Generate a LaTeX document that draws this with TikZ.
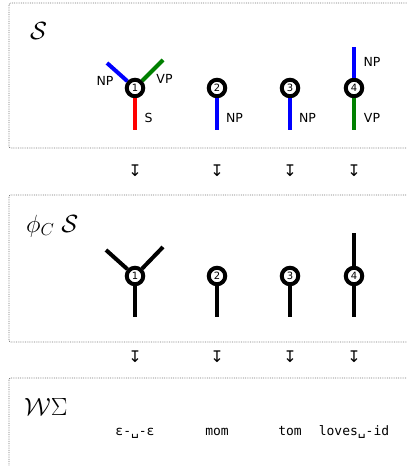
\documentclass[tikz,border=0pt]{standalone}
\usepackage[no-math]{fontspec}
\setmainfont{DejaVu Sans}
\newfontfamily\monof{DejaVu Sans Mono}
\newfontfamily\symf{DejaVu Sans}
\definecolor{dkgreen}{RGB}{0,128,0}
\begin{document}
\begin{tikzpicture}[x=1pt,y=-1pt,
 frame/.style={black!55, densely dotted, line width=0.8pt, rounded corners=2pt},
 vtx/.style={circle, draw=black, fill=white, line width=4pt, minimum size=16.5pt, inner sep=0pt, font=\fontsize{10}{10}\selectfont},
 leg/.style={line width=4pt},
 lbl/.style={font=\fontsize{12.5}{13}\selectfont, inner sep=0pt},
 ttl/.style={font=\fontsize{25}{27}\selectfont, inner sep=0pt, anchor=base west},
 darr/.style={font=\symf\fontsize{16}{16}\selectfont, inner sep=0pt},
 word/.style={font=\monof\fontsize{13}{14}\selectfont, inner sep=0pt, anchor=base}]
\useasboundingbox (0,0) rectangle (407,466);
% frames
\draw[frame] (9,3) rectangle (430,148);
\draw[frame] (9,195) rectangle (430,342);
\draw[frame] (9,378) rectangle (430,490);
% titles
\node[ttl] (t1) at (30,39) {$\mathcal{S}$};
\node[ttl] (t2) at (26,232) {$\phi_C\;\mathcal{S}$};
\node[ttl] (t3) at (24,415) {$\mathcal{W}\Sigma$};
% row 1
\node[vtx] (a1) at (135,88) {1};
\node[vtx] (a2) at (217,88) {2};
\node[vtx] (a3) at (290,88) {3};
\node[vtx] (a4) at (354,88) {4};
\coordinate (a1s) at (135,130);
\coordinate (a1np) at (107,63);
\coordinate (a1vp) at (163,60);
\coordinate (a2s) at (217,130);
\coordinate (a3s) at (290,130);
\coordinate (a4s) at (354,130);
\coordinate (a4n) at (354,47);
\draw[leg,red] (a1) -- (a1s);
\draw[leg,blue] (a1) -- (a1np);
\draw[leg,dkgreen] (a1) -- (a1vp);
\draw[leg,blue] (a2) -- (a2s);
\draw[leg,blue] (a3) -- (a3s);
\draw[leg,dkgreen] (a4) -- (a4s);
\draw[leg,blue] (a4) -- (a4n);
\node[lbl] (l1np) at (105,80.5) {NP};
\node[lbl] (l1vp) at (164.5,79) {VP};
\node[lbl] (l1s) at (148.5,118) {S};
\node[lbl] (l2np) at (234.5,118) {NP};
\node[lbl] (l3np) at (307.5,118) {NP};
\node[lbl] (l4np) at (372,62) {NP};
\node[lbl] (l4vp) at (372,118) {VP};
% arrows row 1
\node[darr] (d1) at (135,171) {↧};
\node[darr] (d2) at (217,171) {↧};
\node[darr] (d3) at (290,171) {↧};
\node[darr] (d4) at (354,171) {↧};
% row 2
\node[vtx] (b1) at (135,276) {1};
\node[vtx] (b2) at (217,276) {2};
\node[vtx] (b3) at (290,276) {3};
\node[vtx] (b4) at (354,276) {4};
\coordinate (b1s) at (135,317);
\coordinate (b1l) at (106,250);
\coordinate (b1r) at (163,247);
\coordinate (b2s) at (217,317);
\coordinate (b3s) at (290,317);
\coordinate (b4s) at (354,317);
\coordinate (b4n) at (354,233);
\draw[leg] (b1) -- (b1s);
\draw[leg] (b1) -- (b1l);
\draw[leg] (b1) -- (b1r);
\draw[leg] (b2) -- (b2s);
\draw[leg] (b3) -- (b3s);
\draw[leg] (b4) -- (b4s);
\draw[leg] (b4) -- (b4n);
% arrows row 2
\node[darr] (e1) at (135,357) {↧};
\node[darr] (e2) at (217,357) {↧};
\node[darr] (e3) at (290,357) {↧};
\node[darr] (e4) at (354,357) {↧};
% words
\node[word] (w1) at (135,435) {ε-␣-ε};
\node[word] (w2) at (217,435) {mom};
\node[word] (w3) at (290,435) {tom};
\node[word] (w4) at (354,435) {loves␣-id};
\end{tikzpicture}
\end{document}
